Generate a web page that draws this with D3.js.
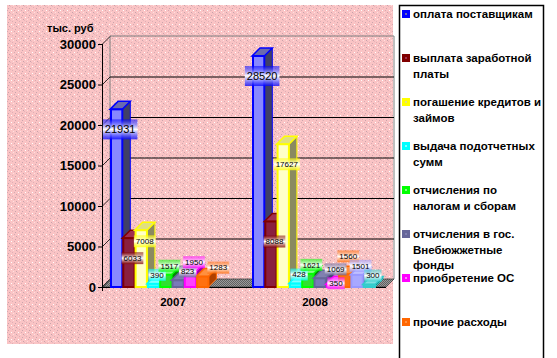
<!DOCTYPE html>
<html><head><meta charset="utf-8">
<script src="https://cdn.jsdelivr.net/npm/d3@7/dist/d3.min.js"></script>
<style>body{margin:0;background:#fff}svg{display:block}</style>
</head><body><svg id="c" width="557" height="358"></svg>
<script>
const categories = ["2007", "2008"];
const seriesNames = [
  ["оплата поставщикам"],
  ["выплата заработной", "платы"],
  ["погашение кредитов и", "займов"],
  ["выдача подотчетных", "сумм"],
  ["отчисления по", "налогам и сборам"],
  ["отчисления в гос.", "Внебюжжетные", "фонды"],
  ["приобретение ОС"],
  ["прочие расходы"],
  null,
  null
];
const values2007 = [21931, 6033, 7008, 390, 1517, 823, 1950, 1283, 0, 0];
const values2008 = [28520, 8088, 17627, 428, 1621, 1069, 350, 1560, 1501, 300];
const yTicks = [0, 5000, 10000, 15000, 20000, 25000, 30000];
const yTitle = "тыс. руб";

// styles
const seriesColor = ["#0000ff","#800000","#ffff00","#00ffff","#00ff00","#666699","#ff00ff","#ff6600","#9999ff","#33cccc"];
const frontFill  = ["#8888ff","#8a1f3f","#ffffc8","#40ffff","#30e030","#7a7ab8","#ff40ff","#ff7010","#a8a8ff","#40d0d0"];
const sideFill   = ["#404068","#5a1020","#8a8a60","#009090","#009000","#444470","#a000a0","#b04000","#6666b0","#208080"];
const topFill    = ["#6a6ab0","#a03050","#e0e080","#80ffff","#80ff80","#8080b0","#ff80ff","#ff9040","#c0c0ff","#80e0e0"];
const FONT = "Liberation Sans, Arial, sans-serif";

const svg = d3.select("#c");
const defs = svg.append("defs");
const pat = defs.append("pattern").attr("id","bg").attr("width",7).attr("height",7).attr("patternUnits","userSpaceOnUse");
pat.append("rect").attr("width",7).attr("height",7).attr("fill","#fac4c5");
[[1,1,"#c9a4ac"],[4,3,"#ffffff"],[2,5,"#c8a2aa"],[5,0,"#ddb0b6"],[6,5,"#ffe0e0"],[0,3,"#d4aab2"],[3,6,"#e6b6bb"]].forEach(([x,y,c])=>
  pat.append("rect").attr("x",x).attr("y",y).attr("width",1).attr("height",1).attr("fill",c));
const fpat = defs.append("pattern").attr("id","floor").attr("width",2).attr("height",2).attr("patternUnits","userSpaceOnUse");
fpat.append("rect").attr("width",2).attr("height",2).attr("fill","#9a9a9a");
fpat.append("rect").attr("width",1).attr("height",1).attr("fill","#606060");
fpat.append("rect").attr("x",1).attr("y",1).attr("width",1).attr("height",1).attr("fill","#606060");

// chart area background
svg.append("rect").attr("x",7).attr("y",5).attr("width",386).attr("height",339).attr("fill","url(#bg)");

const y = d3.scaleLinear().domain([0, 30000]).range([287, 44]);
const x = d3.scaleBand().domain(categories).range([102, 386]);
const xs = d3.scaleBand().domain(d3.range(values2007.length)).range([8, x.bandwidth() - 11]);
const DX = 8, DY = 8;
const x0 = x.range()[0], x1 = x.range()[1];

// back wall
const wall = svg.append("g");
wall.append("path").attr("d",`M${x0+DX},${y(0)-DY}V${y(30000)-DY}H${x1+DX}V${y(0)-DY}`)
  .attr("fill","none").attr("stroke","#808080").attr("stroke-width",1);
yTicks.filter(t=>t>0 && t<30000).forEach(t=>{
  wall.append("line").attr("x1",x0+DX).attr("x2",x1+DX).attr("y1",y(t)-DY+0.5).attr("y2",y(t)-DY+0.5)
    .attr("stroke","#000").attr("stroke-width",1);
});
// floor
svg.append("path").attr("d",`M${x0},${y(0)}L${x0+DX},${y(0)-DY}H${x1+DX}L${x1},${y(0)}Z`)
  .attr("fill","url(#floor)").attr("stroke","#404040").attr("stroke-width",0.8);

// y axis
const ax = svg.append("g");
ax.append("line").attr("x1",x0+0.5).attr("x2",x0+0.5).attr("y1",y(30000)).attr("y2",y(0)).attr("stroke","#000");
yTicks.forEach(t=>{
  ax.append("line").attr("x1",x0-4).attr("x2",x0).attr("y1",y(t)+0.5).attr("y2",y(t)+0.5).attr("stroke","#000");
  ax.append("line").attr("x1",x0).attr("x2",x0+DX).attr("y1",y(t)+0.5).attr("y2",y(t)-DY+0.5).attr("stroke","#000").attr("stroke-width",0.8);
  ax.append("text").attr("x",x0-6).attr("y",y(t)+4.5).attr("text-anchor","end")
    .attr("font-family",FONT).attr("font-weight","bold").attr("font-size",13).text(t);
});
ax.append("line").attr("x1",x0).attr("x2",x1).attr("y1",y(0)+0.5).attr("y2",y(0)+0.5).attr("stroke","#000");
ax.append("line").attr("x1",x0+0.5).attr("x2",x0+0.5).attr("y1",y(0)).attr("y2",y(0)+4).attr("stroke","#000");
svg.append("text").attr("x",47).attr("y",32).attr("font-family",FONT)
  .attr("font-weight","bold").attr("font-size",11).text(yTitle);

// bars
const data = categories.map((c,i)=>({cat:c, vals: i===0 ? values2007 : values2008}));
const barsG = svg.append("g");
const labels = [];
data.forEach(d=>{
  d.vals.forEach((v,s)=>{
    if (!v) return;
    const bx = x(d.cat) + xs(s), w = xs.bandwidth(), top = y(v), bot = y(0);
    const g = barsG.append("g");
    g.append("path").attr("d",`M${bx+w},${top}L${bx+w+DX},${top-DY}V${bot-DY}L${bx+w},${bot}Z`)
      .attr("fill",sideFill[s]).attr("stroke",seriesColor[s]).attr("stroke-width",1);
    g.append("path").attr("d",`M${bx},${top}L${bx+DX},${top-DY}H${bx+w+DX}L${bx+w},${top}Z`)
      .attr("fill",topFill[s]).attr("stroke",seriesColor[s]).attr("stroke-width",1.5);
    g.append("rect").attr("x",bx+1).attr("y",top).attr("width",w-1).attr("height",bot-top)
      .attr("fill",frontFill[s]).attr("stroke",seriesColor[s]).attr("stroke-width",2);
    labels.push({v, s, cat: d.cat, cx: bx + w/2 + DX/2, cy: (bot-top) > 40 ? top + 20 : top - 9});
  });
});

// value labels with simple greedy collision avoidance
const placed = [];
const candidates = [[0,0],[6,0],[0,-9],[12,0],[0,8],[-6,0],[0,-18],[12,-9],[12,8]];
labels.forEach((l,i)=>{
  const big = l.s === 0;
  const fs = big ? 11 : 8;
  const gid = "lg"+i;
  const lg = defs.append("linearGradient").attr("id",gid).attr("x1",0).attr("x2",0).attr("y1",0).attr("y2",1);
  lg.append("stop").attr("offset","0%").attr("stop-color",seriesColor[l.s]).attr("stop-opacity",0.55);
  lg.append("stop").attr("offset","50%").attr("stop-color","#ffffff");
  lg.append("stop").attr("offset","100%").attr("stop-color",seriesColor[l.s]).attr("stop-opacity",0.75);
  const g = svg.append("g");
  const r = g.append("rect");
  const t = g.append("text").attr("text-anchor","middle")
    .attr("font-family",FONT).attr("font-size",fs).attr("fill","#000").text(l.v);
  const tw = t.node().getComputedTextLength();
  const th = fs * 0.95;
  let cx = l.cx, cy = l.cy;
  for (const [ox, oy] of candidates) {
    const bx0 = l.cx + ox - tw/2, bx1 = l.cx + ox + tw/2, by0 = l.cy + oy - th/2, by1 = l.cy + oy + th/2;
    const hit = placed.some(p => bx0 < p.x1 + 1 && bx1 > p.x0 - 1 && by0 < p.y1 + 1 && by1 > p.y0 - 1);
    if (!hit) { cx = l.cx + ox; cy = l.cy + oy; break; }
  }
  placed.push({x0: cx - tw/2, x1: cx + tw/2, y0: cy - th/2, y1: cy + th/2});
  t.attr("x",cx).attr("y",cy + fs*0.36);
  const h = big ? 20 : 12;
  r.attr("x",cx - tw/2 - 2).attr("y",cy - h/2).attr("width",tw+4).attr("height",h).attr("fill",`url(#${gid})`);
});

// category labels
categories.forEach(c=>{
  svg.append("text").attr("x",x(c)+x.bandwidth()/2).attr("y",306).attr("text-anchor","middle")
    .attr("font-family",FONT).attr("font-weight","bold").attr("font-size",11.5).text(c);
});

// legend
svg.append("rect").attr("x",399.5).attr("y",5.5).attr("width",144).attr("height",370)
  .attr("fill","#fff").attr("stroke","#000").attr("stroke-width",1.5);
const leg = svg.append("g");
seriesNames.forEach((lines,s)=>{
  if (!lines) return;
  const cy = 14 + s*44;
  leg.append("rect").attr("x",402).attr("y",cy-4).attr("width",8).attr("height",8).attr("fill",seriesColor[s]);
  leg.append("rect").attr("x",405).attr("y",cy-1).attr("width",2).attr("height",2).attr("fill",topFill[s]);
  lines.forEach((ln,j)=>{
    leg.append("text").attr("x",413).attr("y",cy+4+j*15.5)
      .attr("font-family",FONT).attr("font-weight","bold").attr("font-size",11.5)
      .attr("fill","#000").text(ln);
  });
});
</script></body></html>
